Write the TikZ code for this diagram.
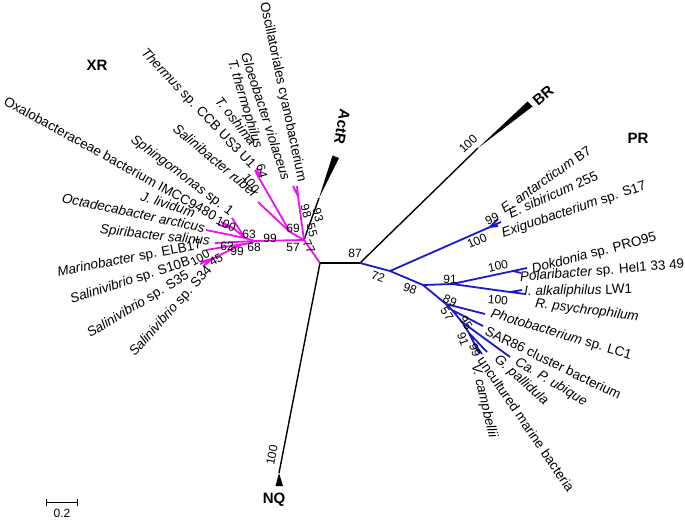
\documentclass[tikz,border=0pt]{standalone}
\usepackage{fontspec}
\setmainfont{Liberation Sans}
\definecolor{magc}{RGB}{235,20,235}
\definecolor{bluc}{RGB}{25,25,205}
\begin{document}
\begin{tikzpicture}[x=1pt,y=-1pt,
  mag/.style={draw=magc,line width=1.8pt},
  blu/.style={draw=bluc,line width=1.8pt},
  blk/.style={draw=black,line width=1.4pt},
  lblL/.style={anchor=east,inner sep=0pt,font=\fontsize{13.5}{14}\selectfont},
  lblR/.style={anchor=west,inner sep=0pt,font=\fontsize{13.5}{14}\selectfont},
  bs/.style={inner sep=0pt,font=\fontsize{12}{12}\selectfont},
  grp/.style={inner sep=0pt,font=\bfseries\fontsize{15}{15}\selectfont}]
\useasboundingbox (0,0) rectangle (685,520);
% ---------- coordinates ----------
\coordinate (A) at (320,263);
\coordinate (B) at (360,263);
\coordinate (NQt) at (279,473);
\coordinate (NQa) at (275.5,486);
\coordinate (NQb) at (283,486);
\coordinate (BRs) at (478,148);
\coordinate (BRa) at (532.5,106.5);
\coordinate (BRb) at (527.5,101.5);
\coordinate (C) at (304,240);
\coordinate (ARs) at (319,198);
\coordinate (ARa) at (339,158);
\coordinate (ARb) at (332.5,155.5);
% magenta
\coordinate (G1) at (298,196);
\coordinate (tOsc) at (297,186);
\coordinate (tGlo) at (293,186);
\coordinate (O) at (290,232);
\coordinate (P) at (259,178);
\coordinate (tTh) at (255,170);
\coordinate (tTt) at (257,168);
\coordinate (tTo) at (261,169);
\coordinate (tSal) at (258,202);
\coordinate (Q) at (255,241);
\coordinate (R) at (245,238);
\coordinate (tSph) at (232,218);
\coordinate (S) at (233,228);
\coordinate (tJl) at (218,225);
\coordinate (tOx) at (221,222);
\coordinate (tOct) at (206,230);
\coordinate (tSpi) at (215,243);
\coordinate (T) at (250,243);
\coordinate (U) at (224,247);
\coordinate (tMar) at (206,250);
\coordinate (V) at (240,245);
\coordinate (W) at (214,258);
\coordinate (tS10) at (201,262);
\coordinate (tS35) at (200,264);
\coordinate (tS34) at (203,266);
% blue
\coordinate (D) at (390,271);
\coordinate (E) at (490,227);
\coordinate (tEa) at (498,219);
\coordinate (tEs) at (501,222);
\coordinate (tEx) at (498,226);
\coordinate (F) at (423,285);
\coordinate (G) at (452,284);
\coordinate (H) at (513,271);
\coordinate (tDok) at (527,268);
\coordinate (tPol) at (521,273);
\coordinate (I) at (510,292);
\coordinate (tIal) at (522,290);
\coordinate (tRps) at (525,294);
\coordinate (J) at (446,304);
\coordinate (tPho) at (485,314);
\coordinate (K) at (452,310);
\coordinate (tSAR) at (483,326);
\coordinate (L) at (462,322);
\coordinate (tCa) at (510,357);
\coordinate (M) at (469,333);
\coordinate (tGp) at (487,352);
\coordinate (N) at (474,343);
\coordinate (tUnc) at (482,354);
\coordinate (tVc) at (479,353);
% ---------- black branches ----------
\draw[blk] (A) -- (B);
\draw[blk] (A) -- (NQt);
\fill (NQt) -- (NQa) -- (NQb) -- cycle;
\draw[blk] (B) -- (BRs);
\fill (BRs) -- (BRa) -- (BRb) -- cycle;
\draw[blk] (C) -- (ARs);
\fill (ARs) -- (ARa) -- (ARb) -- cycle;
% ---------- magenta ----------
\draw[mag] (A) -- (C);
\draw[mag] (C) -- (G1) (G1) -- (tOsc) (G1) -- (tGlo);
\draw[mag] (C) -- (O) (O) -- (P) (P) -- (tTh) (P) -- (tTt) (P) -- (tTo) (O) -- (tSal);
\draw[mag] (C) -- (Q) (Q) -- (R) (R) -- (tSph) (R) -- (S) (S) -- (tJl) (S) -- (tOx) (R) -- (tOct);
\draw[mag] (Q) -- (tSpi);
\draw[mag] (Q) -- (T) (T) -- (U) (U) -- (tMar) (T) -- (V) (V) -- (W) (W) -- (tS10) (W) -- (tS35) (W) -- (tS34);
% ---------- blue ----------
\draw[blu] (B) -- (D) (D) -- (E) (E) -- (tEa) (E) -- (tEs) (E) -- (tEx);
\draw[blu] (D) -- (F) (F) -- (G) (G) -- (H) (H) -- (tDok) (H) -- (tPol) (G) -- (I) (I) -- (tIal) (I) -- (tRps);
\draw[blu] (F) -- (J) (J) -- (tPho) (J) -- (K) (K) -- (tSAR) (K) -- (L) (L) -- (tCa) (L) -- (M) (M) -- (tGp) (M) -- (N) (N) -- (tUnc) (N) -- (tVc);
% ---------- group labels ----------
\node[grp] (gXR) at (97,65) {XR};
\node[grp] (gPR) at (638,138) {PR};
\node[grp,rotate=40] (gBR) at (543,96) {BR};
\node[grp,rotate=-100] (gAR) at (342,127) {ActR};
\node[grp] (gNQ) at (274,500) {NQ};
% ---------- left taxa ----------
\node[lblL,rotate=-78] (nOsc) at (301.7,181.7) {Oscillatoriales cyanobacterium};
\node[lblL,rotate=-72] (nGlo) at (286.7,180) {\textit{Gloeobacter violaceus}};
\node[lblL,rotate=-73] (nTt) at (258,148) {\textit{T. thermophilus}};
\node[lblL,rotate=-52] (nTo) at (254,144) {\textit{T. oshima}};
\node[lblL,rotate=-46.5] (nTh) at (253,167) {\textit{Thermus} sp. CCB US3 U1};
\node[lblL,rotate=-40] (nSal) at (256.7,195) {\textit{Salinibacter ruber}};
\node[lblL,rotate=-37] (nSph) at (231.7,213.3) {\textit{Sphingomonas} sp. 1};
\node[lblL,rotate=-29] (nOx) at (216,216.7) {Oxalobacteraceae bacterium IMCC9480};
\node[lblL,rotate=-18] (nJl) at (195,213) {\textit{J. lividum}};
\node[lblL,rotate=-12] (nOct) at (205,228) {\textit{Octadecabacter arcticus}};
\node[lblL,rotate=-6] (nSpi) at (210,242) {\textit{Spiribacter salinus}};
\node[lblL,rotate=11] (nMar) at (201.7,245) {\textit{Marinobacter} sp. ELB17};
\node[lblL,rotate=18] (nS10) at (190,261.7) {\textit{Salinivibrio} sp. S10B};
\node[lblL,rotate=31] (nS35) at (188.3,275) {\textit{Salinivibrio} sp. S35};
\node[lblL,rotate=48] (nS34) at (210,268) {\textit{Salinivibrio} sp. S34};
% ---------- right taxa ----------
\node[lblR,rotate=35] (nEa) at (502,210) {\textit{E. antarcticum} B7};
\node[lblR,rotate=24] (nEs) at (509,214) {\textit{E. sibiricum} 255};
\node[lblR,rotate=18.5] (nEx) at (502,234) {\textit{Exiguobacterium} sp. S17};
\node[lblR,rotate=14.7] (nDok) at (532,270) {\textit{Dokdonia} sp. PRO95};
\node[lblR,rotate=4.6] (nPol) at (520,278) {\textit{Polaribacter} sp. Hel1 33 49};
\node[lblR,rotate=1] (nIal) at (524,292) {\textit{I. alkaliphilus} LW1};
\node[lblR,rotate=-7.5] (nRps) at (535,304) {\textit{R. psychrophilum}};
\node[lblR,rotate=-16.7] (nPho) at (491,314) {\textit{Photobacterium} sp. LC1};
\node[lblR,rotate=-26] (nSAR) at (486,330) {SAR86 cluster bacterium};
\node[lblR,rotate=-31] (nCa) at (516,361) {\textit{Ca. P. ubique}};
\node[lblR,rotate=-42] (nGp) at (496,358) {\textit{G. pallidula}};
\node[lblR,rotate=-55.6] (nUnc) at (481,358) {uncultured marine bacteria};
\node[lblR,rotate=-76.5] (nVc) at (475,364) {\textit{V. campbellii}};
% ---------- bootstrap values ----------
\node[bs,rotate=79] (b1) at (272,455) {100};
\node[bs,rotate=43] (b2) at (468,144) {100};
\node[bs] (b3) at (355,253) {87};
\node[bs,rotate=-20] (b4) at (378,277) {72};
\node[bs,rotate=-20] (b5) at (410,289) {98};
\node[bs,rotate=25] (b6) at (477,241) {100};
\node[bs,rotate=25] (b7) at (492,219) {99};
\node[bs] (b8) at (450,279) {91};
\node[bs,rotate=12] (b9) at (498,266) {100};
\node[bs,rotate=-5] (b10) at (498,300) {100};
\node[bs,rotate=-25] (b11) at (450,301) {89};
\node[bs,rotate=-55] (b12) at (447,314) {57};
\node[bs,rotate=-55] (b13) at (466,323) {95};
\node[bs,rotate=-70] (b14) at (463,339) {91};
\node[bs,rotate=-70] (b15) at (475,350) {99};
\node[bs,rotate=-65] (b16) at (309,247) {77};
\node[bs,rotate=-75] (b17) at (312,230) {55};
\node[bs,rotate=-75] (b18) at (318,215) {93};
\node[bs,rotate=-75] (b19) at (306,211) {98};
\node[bs] (b20) at (293,228) {69};
\node[bs,rotate=-75] (b21) at (262,171) {64};
\node[bs,rotate=-55] (b22) at (251,183) {100};
\node[bs] (b23) at (270,238) {99};
\node[bs] (b24) at (293,247) {57};
\node[bs] (b25) at (249,234) {63};
\node[bs,rotate=-25] (b26) at (226,224) {100};
\node[bs] (b27) at (227,246) {62};
\node[bs] (b28) at (237,251) {99};
\node[bs] (b29) at (254,247) {68};
\node[bs,rotate=30] (b30) at (200,258) {100};
\node[bs,rotate=30] (b31) at (216,260) {45};
% ---------- scale bar ----------
\coordinate (sb1) at (46.7,502);
\coordinate (sb2) at (77.3,502);
\draw[line width=1pt] (sb1) -- (sb2);
\draw[line width=1pt] ([yshift=-3.5pt]sb1) -- ([yshift=3.5pt]sb1);
\draw[line width=1pt] ([yshift=-3.5pt]sb2) -- ([yshift=3.5pt]sb2);
\node[bs] (sbl) at (62,513) {0.2};
\end{tikzpicture}
\end{document}
